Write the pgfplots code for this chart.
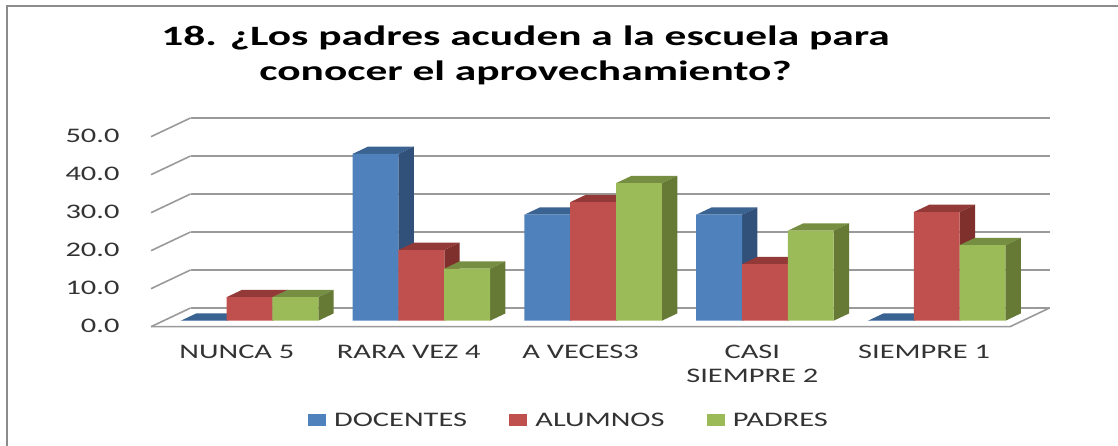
\documentclass[border=0pt]{standalone}
\usepackage{fontspec}
\setmainfont[FakeStretch=1.47]{Carlito}
\usepackage{pgfplots}
\usepackage{pgfplotstable}
\pgfplotsset{compat=1.18}

\definecolor{azul}{HTML}{4F81BD}
\definecolor{azulL}{HTML}{31517A}
\definecolor{azulT}{HTML}{3A6391}
\definecolor{rojo}{HTML}{C0504D}
\definecolor{rojoL}{HTML}{7F302D}
\definecolor{rojoT}{HTML}{933937}
\definecolor{verde}{HTML}{9BBB59}
\definecolor{verdeL}{HTML}{667A36}
\definecolor{verdeT}{HTML}{768E42}
\definecolor{rejilla}{HTML}{9A9A9A}
\definecolor{marco}{HTML}{8C8C8C}

\pgfplotstableread{
docentes alumnos padres
0.0  6.2  6.2
43.9 18.6 13.7
27.9 31.2 36.2
27.9 14.9 23.7
0.0  28.6 19.9
}\datos

% one bar: left edge, value, front, side, top
\newcommand{\barra}[5]{%
  \pgfmathsetmacro\xa{#1}%
  \pgfmathsetmacro\xb{#1+0.2667}%
  \pgfmathsetmacro\val{#2}%
  \addplot3[draw=none,fill=#5,forget plot] coordinates {(\xa,0.32,\val) (\xb,0.32,\val) (\xb,0.71,\val) (\xa,0.71,\val) (\xa,0.32,\val)};
  \addplot3[draw=none,fill=#4,forget plot] coordinates {(\xb,0.32,0) (\xb,0.71,0) (\xb,0.71,\val) (\xb,0.32,\val) (\xb,0.32,0)};
  \addplot3[draw=none,fill=#3,forget plot] coordinates {(\xa,0.32,0) (\xb,0.32,0) (\xb,0.32,\val) (\xa,0.32,\val) (\xa,0.32,0)};
}

\begin{document}
\begin{tikzpicture}[x=1pt,y=1pt]
\path[use as bounding box] (0,0) rectangle (1118,446);
\draw[marco,line width=2pt] (6.5,0) -- (6.5,439.8) -- (1118,439.8);
\begin{axis}[
  at={(151pt,119.3pt)}, anchor=origin,
  x={(171.8pt,0pt)}, y={(39.5pt,18.7pt)}, z={(0pt,3.8pt)},
  xmin=0, xmax=5, ymin=0, ymax=1, zmin=0, zmax=50,
  clip=false,
  axis line style={draw=none},
  major tick length=0pt,
  xtick={0.5,1.5,2.5,3.5,4.5},
  xticklabels={NUNCA 5,RARA VEZ 4,A VECES3,{CASI\\SIEMPRE 2},SIEMPRE 1},
  ytick=\empty,
  ztick={0,10,20,30,40,50},
  zmajorgrids=true,
  major grid style={rejilla,line width=1.6pt},
  ticklabel style={text=black!80},
  xticklabel style={font=\fontsize{20.7}{23.5}\selectfont,align=center,anchor=north,yshift=-15pt},
  zticklabel style={font=\fontsize{20.7}{25}\selectfont,anchor=east,xshift=-28pt,yshift=0.8pt,
    /pgf/number format/fixed,/pgf/number format/fixed zerofill,
    /pgf/number format/precision=1,/pgf/number format/assume math mode=true},
  legend columns=3,
  legend style={at={(0.5,-0.5)},anchor=center,xshift=-31.5pt,yshift=11pt,draw=none,fill=none,
    font=\fontsize{20.7}{25}\selectfont,text=black!80,
    /tikz/every odd column/.append style={column sep=7pt},
    /tikz/every even column/.append style={column sep=40pt}},
  legend image code/.code={\fill[#1] (0pt,-5.5pt) rectangle (17pt,5.5pt);},
]
\addlegendimage{azul}\addlegendentry{DOCENTES}
\addlegendimage{rojo}\addlegendentry{ALUMNOS}
\addlegendimage{verde}\addlegendentry{PADRES}

\addplot3[rejilla,line width=1.6pt,forget plot] coordinates {(0,0,0) (5,0,0) (5,1,0)};

\pgfplotsinvokeforeach{0,1,2,3,4}{
  \pgfplotstablegetelem{#1}{docentes}\of\datos
  \barra{#1+0.1}{\pgfplotsretval}{azul}{azulL}{azulT}
  \pgfplotstablegetelem{#1}{alumnos}\of\datos
  \barra{#1+0.3667}{\pgfplotsretval}{rojo}{rojoL}{rojoT}
  \pgfplotstablegetelem{#1}{padres}\of\datos
  \barra{#1+0.6333}{\pgfplotsretval}{verde}{verdeL}{verdeT}
}
\end{axis}
\node[font=\fontsize{28}{35}\selectfont\bfseries,align=center,text=black,xscale=1.055] at (525.5,391) {18. ¿Los padres acuden a la escuela para\\conocer el aprovechamiento?};
\end{tikzpicture}
\end{document}
